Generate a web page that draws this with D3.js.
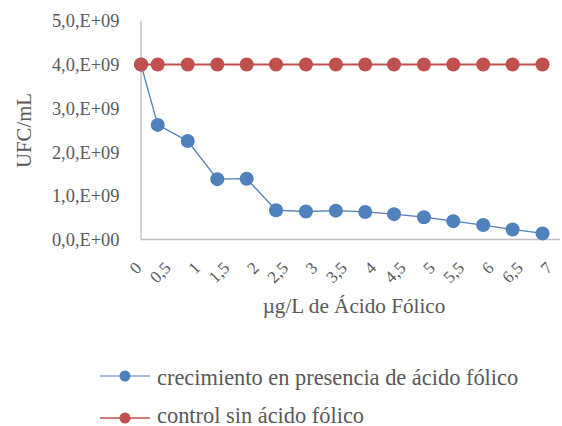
<!DOCTYPE html>
<html>
<head>
<meta charset="utf-8">
<script src="https://cdn.jsdelivr.net/npm/d3@7"></script>
<style>
  html, body { margin: 0; padding: 0; background: #ffffff; }
  svg { display: block; }
  text { font-family: "Liberation Serif", "DejaVu Serif", serif; fill: #595959; }
</style>
</head>
<body>
<svg id="chart" width="562" height="426"></svg>
<script>
// ---- data ----
const xTickValues = [0, 0.5, 1, 1.5, 2, 2.5, 3, 3.5, 4, 4.5, 5, 5.5, 6, 6.5, 7];
const xTickLabels = ["0", "0,5", "1", "1,5", "2", "2,5", "3", "3,5", "4", "4,5", "5", "5,5", "6", "6,5", "7"];
const yTickValues = [0, 1e9, 2e9, 3e9, 4e9, 5e9];
const yTickLabels = ["0,0,E+00", "1,0,E+09", "2,0,E+09", "3,0,E+09", "4,0,E+09", "5,0,E+09"];
// x positions of the plotted points, as they sit against the axis labels
const pointX = [0, 0.285, 0.796, 1.30, 1.80, 2.30, 2.81, 3.32, 3.82, 4.31, 4.82, 5.32, 5.83, 6.33, 6.84];
const crecimiento = [4.0e9, 2.62e9, 2.25e9, 1.38e9, 1.39e9, 0.67e9, 0.64e9, 0.66e9, 0.63e9, 0.58e9, 0.51e9, 0.42e9, 0.33e9, 0.23e9, 0.14e9];
const control = [4.0e9, 4.0e9, 4.0e9, 4.0e9, 4.0e9, 4.0e9, 4.0e9, 4.0e9, 4.0e9, 4.0e9, 4.0e9, 4.0e9, 4.0e9, 4.0e9, 4.0e9];
const seriesNames = ["crecimiento en presencia de ácido fólico", "control sin ácido fólico"];
const xTitle = "µg/L de Ácido Fólico";
const yTitle = "UFC/mL";

// ---- layout ----
const svg = d3.select("#chart");
const plotLeft = 141, plotRight = 560, plotTop = 20.75, plotBottom = 239.5;
const colors = ["#4f81bd", "#c0504d"];

const x = d3.scaleLinear().domain([0, 7]).range([plotLeft, plotLeft + 7 * 58.7]);
const y = d3.scaleLinear().domain([0, 5e9]).range([plotBottom, plotTop]);

// axes lines
svg.append("line")
  .attr("x1", plotLeft).attr("x2", plotLeft)
  .attr("y1", y(5e9)).attr("y2", plotBottom)
  .attr("stroke", "#bfbfbf").attr("stroke-width", 1.3);
svg.append("line")
  .attr("x1", plotLeft).attr("x2", plotRight)
  .attr("y1", plotBottom).attr("y2", plotBottom)
  .attr("stroke", "#bfbfbf").attr("stroke-width", 1.3);

// y tick labels
svg.append("g").selectAll("text")
  .data(yTickValues)
  .join("text")
  .attr("x", 119.5)
  .attr("y", d => y(d) + 6.5)
  .attr("text-anchor", "end")
  .attr("font-size", 18.4)
  .text((d, i) => yTickLabels[i]);

// x tick labels (rotated -45)
svg.append("g").selectAll("text")
  .data(xTickValues)
  .join("text")
  .attr("transform", d => `translate(${x(d) + 1.5},${269}) rotate(-45)`)
  .attr("text-anchor", "end")
  .attr("font-size", 17)
  .text((d, i) => xTickLabels[i]);

// axis titles
svg.append("text")
  .attr("x", 354).attr("y", 312.5)
  .attr("text-anchor", "middle")
  .attr("font-size", 21.2)
  .text(xTitle);
svg.append("text")
  .attr("transform", `translate(30.5,130.5) rotate(-90)`)
  .attr("text-anchor", "middle")
  .attr("font-size", 20.8)
  .text(yTitle);

// series
const allSeries = [crecimiento, control];
const lineGen = d3.line().x((d, i) => x(pointX[i])).y(d => y(d));
const widths = [1.3, 2];

allSeries.forEach((vals, s) => {
  svg.append("path")
    .datum(vals)
    .attr("fill", "none")
    .attr("stroke", colors[s])
    .attr("stroke-width", widths[s])
    .attr("d", lineGen);
});
allSeries.forEach((vals, s) => {
  svg.append("g").selectAll("circle")
    .data(vals)
    .join("circle")
    .attr("cx", (d, i) => x(pointX[i]))
    .attr("cy", d => y(d))
    .attr("r", 7)
    .attr("fill", colors[s]);
});

// legend
const legendY = [376, 418];
const legendBase = [384.5, 422.5];
seriesNames.forEach((name, s) => {
  const g = svg.append("g");
  g.append("line")
    .attr("x1", 100).attr("x2", 150)
    .attr("y1", legendY[s]).attr("y2", legendY[s])
    .attr("stroke", colors[s]).attr("stroke-width", widths[s] - 0.3);
  g.append("circle")
    .attr("cx", 125).attr("cy", legendY[s]).attr("r", 5.5)
    .attr("fill", colors[s]);
  g.append("text")
    .attr("x", 157).attr("y", legendBase[s])
    .attr("font-size", 22.4)
    .text(name);
});
</script>
</body>
</html>
